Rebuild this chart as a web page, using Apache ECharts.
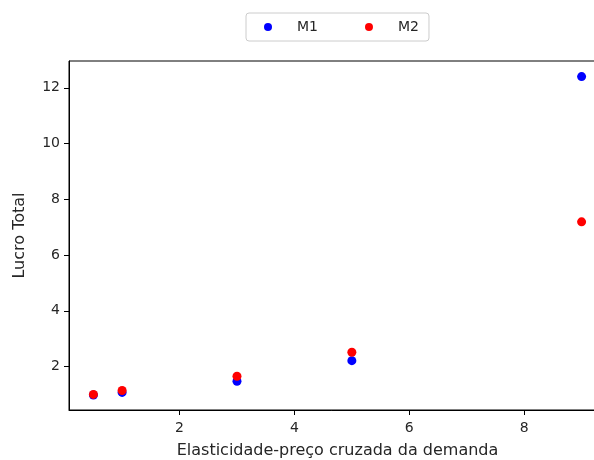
<!DOCTYPE html>
<html>
<head>
<meta charset="utf-8">
<script src="https://cdn.jsdelivr.net/npm/echarts@6/dist/echarts.min.js"></script>
<style>
  html, body { margin: 0; padding: 0; background: #fff; }
  #chart { width: 594px; height: 460px; }
</style>
</head>
<body>
<div id="chart"></div>
<script>
// Elasticidade-preço cruzada (x) and lucro total for each model
const elasticidade = [0.5, 1, 3, 5, 9];
const lucroM1 = [0.98, 1.07, 1.47, 2.21, 12.40];
const lucroM2 = [1.00, 1.14, 1.65, 2.51, 7.19];
const xTicks = [2, 4, 6, 8];
const yTicks = [2, 4, 6, 8, 10, 12];

const FONT = 'DejaVu Sans';
const TXT = '#262626';

const pairs = (xs, ys) => xs.map((x, i) => [x, ys[i]]);

const chart = echarts.init(document.getElementById('chart'), null, { renderer: 'canvas' });

chart.setOption({
  animation: false,
  backgroundColor: '#fff',
  textStyle: { fontFamily: FONT },
  legend: {
    left: 246,
    top: 13,
    orient: 'horizontal',
    padding: [7, 10, 7, 18],
    itemGap: 47,
    itemWidth: 8,
    itemHeight: 8,
    borderColor: '#cccccc',
    borderWidth: 1,
    borderRadius: 3,
    icon: 'circle',
    formatter: name => '{t|' + name + '}',
    textStyle: {
      fontFamily: FONT,
      fontSize: 14,
      color: TXT,
      rich: { t: { fontFamily: FONT, fontSize: 14, color: TXT, padding: [0, 0, 0, 20] } }
    },
    data: ['M1', 'M2']
  },
  // the plot box runs past the right edge of the canvas
  grid: {
    left: 69,
    top: 61,
    width: 537,
    height: 349,
    outerBoundsMode: 'none',
    containLabel: false,
    show: true,
    borderColor: '#000',
    borderWidth: 1,
    backgroundColor: 'transparent'
  },
  xAxis: {
    type: 'value',
    min: 0.075,
    max: 9.425,
    name: 'Elasticidade-preço cruzada da demanda',
    nameLocation: 'middle',
    nameGap: 33,
    nameTextStyle: { fontFamily: FONT, fontSize: 16, color: TXT },
    splitLine: { show: false },
    axisLine: { show: true, lineStyle: { color: '#000', width: 1 } },
    axisTick: { show: true, length: 5, customValues: xTicks, lineStyle: { color: '#000' } },
    axisLabel: { customValues: xTicks, margin: 11, fontFamily: FONT, fontSize: 14, color: TXT }
  },
  yAxis: {
    type: 'value',
    min: 0.44,
    max: 12.96,
    name: 'Lucro Total',
    nameLocation: 'middle',
    nameGap: 41,
    nameRotate: 90,
    nameTextStyle: { fontFamily: FONT, fontSize: 16, color: TXT },
    splitLine: { show: false },
    axisLine: { show: true, lineStyle: { color: '#000', width: 1 } },
    axisTick: { show: true, length: 5, customValues: yTicks, lineStyle: { color: '#000' } },
    axisLabel: { customValues: yTicks, margin: 9, fontFamily: FONT, fontSize: 14, color: TXT }
  },
  series: [
    {
      name: 'M1',
      type: 'scatter',
      symbol: 'circle',
      symbolSize: 9,
      itemStyle: { color: '#0000ff', opacity: 1 },
      data: pairs(elasticidade, lucroM1),
      z: 2
    },
    {
      name: 'M2',
      type: 'scatter',
      symbol: 'circle',
      symbolSize: 9,
      itemStyle: { color: '#ff0000', opacity: 1 },
      data: pairs(elasticidade, lucroM2),
      z: 3
    }
  ]
});
</script>
</body>
</html>
